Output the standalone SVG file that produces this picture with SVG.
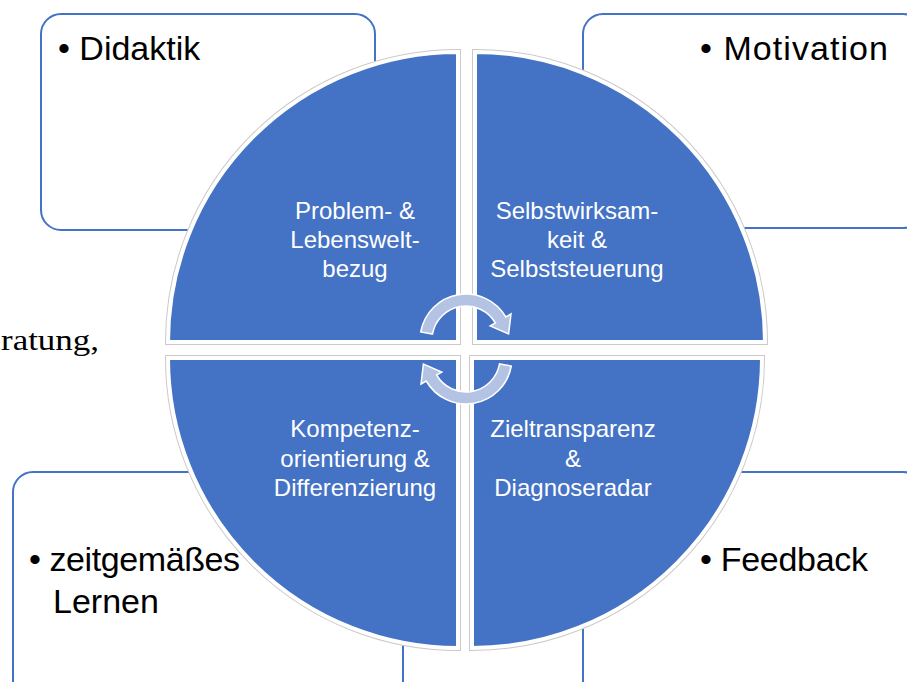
<svg xmlns="http://www.w3.org/2000/svg" width="907" height="682" viewBox="0 0 907 682">
<style>
.box{fill:#fff;stroke:#4472C4;stroke-width:2}
.qo{fill:none;stroke:#cacaca;stroke-width:6}
.qw{fill:#4472C4;stroke:#fff;stroke-width:4}
.bt{font-family:"Liberation Sans",Arial,sans-serif;font-size:34px;fill:#000}
.qt{font-family:"Liberation Sans",Arial,sans-serif;font-size:24px;fill:#fff;text-anchor:middle}
.arr{fill:#B4C3E3;stroke:#fff;stroke-width:1.5}
</style>
<defs>
<path id="pTL" d="M458,342 L168,342 A290,290 0 0 1 458,52 Z"/>
<path id="pTR" d="M475,342 L475,52 A290,290 0 0 1 765,342 Z"/>
<path id="pBL" d="M458,358 L458,648 A290,290 0 0 1 168,358 Z"/>
<path id="pBR" d="M472,358 L762,358 A290,290 0 0 1 472,648 Z"/>
<path id="arrow" d="M420.7,332 A46,46 0 0 1 505.8,317 L511,314 L508.6,333.9 L490.2,326 L495.4,323 A34,34 0 0 0 432.5,334.1 Z"/>
</defs>
<text x="1" y="350" font-family="Liberation Serif,serif" font-size="30" textLength="98" lengthAdjust="spacingAndGlyphs">ratung,</text>
<g id="box-didaktik">
<rect class="box" x="41" y="14" width="334" height="216" rx="20"/>
<text class="bt" x="58" y="60">• Didaktik</text>
</g>
<g id="box-motivation">
<rect class="box" x="583" y="14" width="340" height="214" rx="20"/>
<text class="bt" x="700" y="60" textLength="188">• Motivation</text>
</g>
<g id="box-lernen">
<rect class="box" x="13" y="472" width="390" height="230" rx="20"/>
<text class="bt" x="29" y="571" textLength="211">• zeitgemäßes</text>
<text class="bt" x="53" y="613">Lernen</text>
</g>
<g id="box-feedback">
<rect class="box" x="583" y="472" width="340" height="230" rx="20"/>
<text class="bt" x="700" y="571" textLength="168">• Feedback</text>
</g>
<g id="q-problem">
<use href="#pTL" class="qo"/><use href="#pTL" class="qw"/>
<text class="qt"><tspan x="355" y="219">Problem- &amp;</tspan><tspan x="355" y="248">Lebenswelt-</tspan><tspan x="355" y="277">bezug</tspan></text>
</g>
<g id="q-selbst">
<use href="#pTR" class="qo"/><use href="#pTR" class="qw"/>
<text class="qt"><tspan x="577" y="219">Selbstwirksam-</tspan><tspan x="577" y="248">keit &amp;</tspan><tspan x="577" y="277">Selbststeuerung</tspan></text>
</g>
<g id="q-kompetenz">
<use href="#pBL" class="qo"/><use href="#pBL" class="qw"/>
<text class="qt"><tspan x="355" y="437">Kompetenz-</tspan><tspan x="355" y="467">orientierung &amp;</tspan><tspan x="355" y="496">Differenzierung</tspan></text>
</g>
<g id="q-ziel">
<use href="#pBR" class="qo"/><use href="#pBR" class="qw"/>
<text class="qt"><tspan x="573" y="437">Zieltransparenz</tspan><tspan x="573" y="467">&amp;</tspan><tspan x="573" y="496">Diagnoseradar</tspan></text>
</g>
<g id="connectors">
<use href="#arrow" class="arr"/>
<use href="#arrow" class="arr" transform="rotate(180 466 349)"/>
</g>
</svg>
